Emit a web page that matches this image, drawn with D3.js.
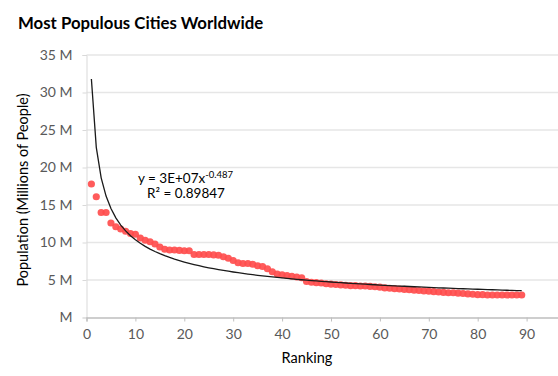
<!DOCTYPE html>
<html>
<head>
<meta charset="utf-8">
<script src="https://cdn.jsdelivr.net/npm/d3@7"></script>
<style>
  body { margin: 0; background: #fff; }
  text { font-family: Lato, "Open Sans", sans-serif; }
</style>
</head>
<body>
<div id="chart"></div>
<script>
// population (millions) by ranking 1..89
const rankings = d3.range(1, 90);
const population = [
  17.8, 16.1, 14.0, 14.0, 12.6, 12.1, 11.8, 11.5, 11.2, 11.1,
  10.6, 10.3, 10.1, 9.8, 9.4, 9.1, 9.0, 9.0, 8.95, 8.9,
  8.9, 8.4, 8.4, 8.4, 8.4, 8.35, 8.3, 8.1, 7.9, 7.6,
  7.3, 7.2, 7.2, 7.1, 6.9, 6.8, 6.5, 6.1, 5.8, 5.7,
  5.6, 5.5, 5.4, 5.3, 4.8, 4.7, 4.65, 4.6, 4.5, 4.45,
  4.4, 4.35, 4.3, 4.25, 4.25, 4.2, 4.2, 4.15, 4.1, 4.05,
  3.95, 3.9, 3.85, 3.8, 3.75, 3.7, 3.65, 3.6, 3.55, 3.5,
  3.45, 3.4, 3.35, 3.3, 3.3, 3.25, 3.2, 3.15, 3.1, 3.05,
  3.05, 3.0, 3.0, 3.0, 3.0, 3.0, 3.0, 3.0, 3.0
];
const xTicks = [0, 10, 20, 30, 40, 50, 60, 70, 80, 90];
const yTicks = [0, 5, 10, 15, 20, 25, 30, 35];
// power trendline shown on the chart: y = a * x^b
const trendA = 31.8;
const trendB = -0.487;
const trendLabel = "y = 3E+07x";
const trendExp = "-0.487";
const r2Label = "R\u00B2 = 0.89847";

const data = rankings.map((r, i) => ({ rank: r, pop: population[i] }));

const W = 558, H = 376;
const svg = d3.select("#chart").append("svg")
    .attr("width", W)
    .attr("height", H);

const x = d3.scaleLinear().domain([0, 100]).range([86.5, 575.5]);
const y = d3.scaleLinear().domain([0, 35]).range([317.5, 55]);

// title
svg.append("text")
    .attr("x", 18).attr("y", 29)
    .style("font-size", "16.8px")
    .style("font-weight", "bold")
    .style("fill", "#000")
    .text("Most Populous Cities Worldwide");

// gridlines
svg.append("g")
    .selectAll("line")
    .data(yTicks.filter(d => d > 0))
    .enter()
    .append("line")
        .attr("x1", x(0)).attr("x2", W)
        .attr("y1", d => y(d)).attr("y2", d => y(d))
        .style("stroke", "#e6e6e6")
        .style("stroke-width", 1.5);

// y axis
const yAxis = d3.axisLeft(y)
    .tickValues(yTicks)
    .tickSize(4)
    .tickPadding(10)
    .tickFormat(d => d === 0 ? "M" : d + " M");

const gy = svg.append("g")
    .attr("transform", `translate(${x(0)}, 0)`)
    .call(yAxis);
gy.select(".domain").style("stroke", "#d9d9d9");
gy.selectAll(".tick line").style("stroke", "#d9d9d9");
gy.selectAll(".tick text")
    .style("font-size", "14px")
    .style("fill", "#595959")
    .style("font-family", "Lato, sans-serif");

// x axis
const xAxis = d3.axisBottom(x)
    .tickValues(xTicks)
    .tickSize(4)
    .tickPadding(8);

const gx = svg.append("g")
    .attr("transform", `translate(0, ${y(0)})`)
    .call(xAxis);
gx.select(".domain").style("stroke", "#bfbfbf").style("stroke-width", 1.3);
gx.selectAll(".tick line").style("stroke", "#bfbfbf");
gx.selectAll(".tick text")
    .style("font-size", "14px")
    .style("fill", "#595959")
    .style("font-family", "Lato, sans-serif");

// axis titles
svg.append("text")
    .attr("x", 307).attr("y", 363)
    .attr("text-anchor", "middle")
    .style("font-size", "14.5px")
    .style("fill", "#000")
    .text("Ranking");

svg.append("text")
    .attr("transform", "translate(28, 190) rotate(-90)")
    .attr("text-anchor", "middle")
    .style("font-size", "14.5px")
    .style("fill", "#000")
    .text("Population (Millions of People)");

// data points
svg.append("g")
    .selectAll("circle")
    .data(data)
    .enter()
    .append("circle")
        .attr("cx", d => x(d.rank))
        .attr("cy", d => y(d.pop))
        .attr("r", 3.6)
        .style("fill", "#ff4d4d")
        .style("opacity", 0.92);

// trendline
const trend = rankings.map(r => ({ rank: r, pop: trendA * Math.pow(r, trendB) }));
const line = d3.line()
    .x(d => x(d.rank))
    .y(d => y(d.pop));

svg.append("path")
    .datum(trend)
    .attr("d", line)
    .style("fill", "none")
    .style("stroke", "#1a1a1a")
    .style("stroke-width", 1.3);

// trendline label
const eq = svg.append("text")
    .attr("x", 138).attr("y", 183)
    .style("font-size", "13.5px")
    .style("fill", "#000");
eq.append("tspan").text(trendLabel);
eq.append("tspan")
    .attr("dy", -5)
    .style("font-size", "9.5px")
    .text(trendExp);

svg.append("text")
    .attr("x", 147).attr("y", 198)
    .style("font-size", "13.5px")
    .style("fill", "#000")
    .text(r2Label);
</script>
</body>
</html>
